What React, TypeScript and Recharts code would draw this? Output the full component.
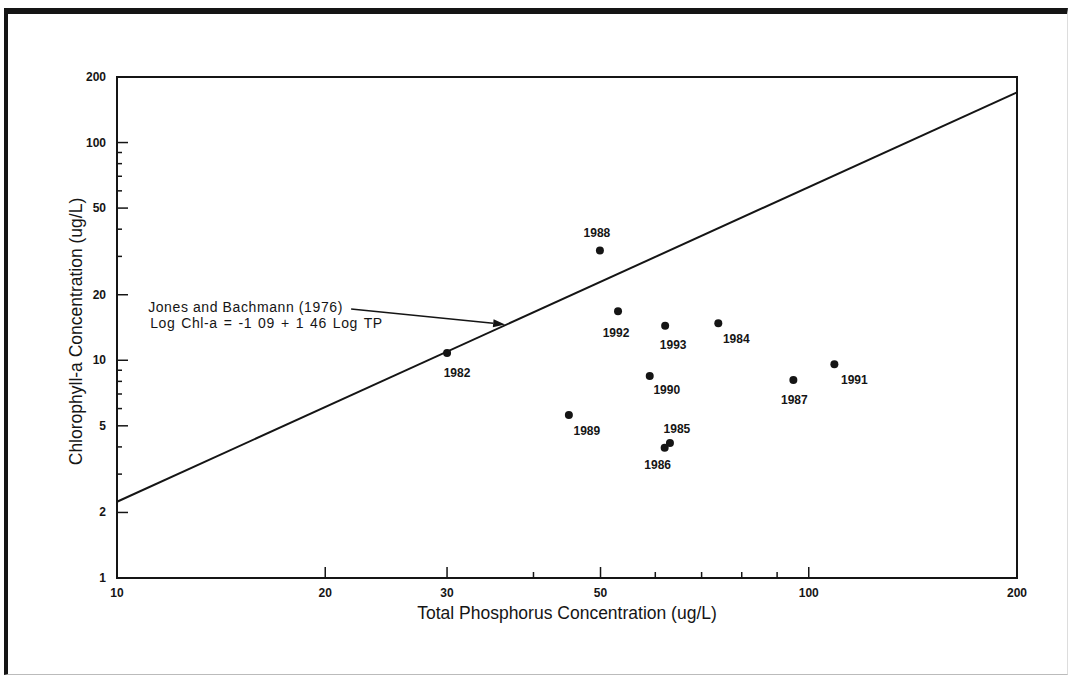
import { ScatterChart, Scatter, XAxis, YAxis, ReferenceLine, ReferenceArea } from 'recharts';

const years = ['1982', '1984', '1985', '1986', '1987', '1988', '1989', '1990', '1991', '1992', '1993'];
const tpValues = [30.0, 74.0, 63.0, 61.9, 95.0, 49.9, 45.0, 58.9, 108.9, 53.0, 62.0];
const chlValues = [10.8, 14.8, 4.17, 3.96, 8.12, 31.9, 5.61, 8.47, 9.59, 16.8, 14.4];

// Jones and Bachmann (1976) line, read at the plot edges
const trendTp = [10, 200];
const trendChl = [2.24, 170];

// annotation arrow, tail and tip
const arrowTp = [21.8, 36.4];
const arrowChl = [17.2, 14.6];

const xTicks = [10, 20, 30, 40, 50, 60, 70, 80, 90, 100, 200];
const xLabels = [10, 20, 30, 50, 100, 200];
const yTicks = [1, 2, 3, 4, 5, 6, 7, 8, 9, 10, 20, 30, 40, 50, 60, 70, 80, 90, 100, 200];
const yLabels = [1, 2, 5, 10, 20, 50, 100, 200];

const points = years.map((year, i) => ({ year, tp: tpValues[i], chl: chlValues[i] }));

// where each year label sits relative to its dot (px)
const labelOffset: Record<string, [number, number]> = {
  '1982': [10, 20], '1984': [18, 16], '1985': [7, -14], '1986': [-7, 17],
  '1987': [1, 20], '1988': [-3, -18], '1989': [18, 16], '1990': [17, 14],
  '1991': [20, 16], '1992': [-2, 22], '1993': [8, 19],
};

const SANS = '"Liberation Sans", Arial, sans-serif';
const NUM = '"Liberation Sans Narrow", "Liberation Sans", Arial, sans-serif';
const INK = '#151515';

const XTick = (props: any) => {
  const { x, y, payload } = props;
  const major = xLabels.includes(payload.value);
  return (
    <g>
      <line x1={x} y1={y} x2={x} y2={y - (major ? 11 : 6)} stroke={INK} strokeWidth={1.5} />
      {major && (
        <text x={x} y={y + 19} textAnchor="middle" fontSize={12} fontWeight="bold" fontFamily={NUM} fill={INK}>
          {payload.value}
        </text>
      )}
    </g>
  );
};

const YTick = (props: any) => {
  const { x, y, payload } = props;
  const major = yLabels.includes(payload.value);
  return (
    <g>
      <line x1={x} y1={y} x2={x + (major ? 11 : 5)} y2={y} stroke={INK} strokeWidth={1.5} />
      {major && (
        <text x={x - 11} y={y + 4} textAnchor="end" fontSize={12} fontWeight="bold" fontFamily={NUM} fill={INK}>
          {payload.value}
        </text>
      )}
    </g>
  );
};

const Dot = (props: any) => {
  const { cx, cy, payload } = props;
  const [dx, dy] = labelOffset[payload.year] || [0, 18];
  return (
    <g>
      <circle cx={cx} cy={cy} r={4} fill={INK} />
      <text x={cx + dx} y={cy + dy + 4} textAnchor="middle" fontSize={12} fontWeight="bold" fontFamily={NUM} fill={INK}>
        {payload.year}
      </text>
    </g>
  );
};

const ArrowNote = (props: any) => {
  const { x1, y1, x2, y2 } = props;
  const ang = Math.atan2(y2 - y1, x2 - x1);
  const len = 12;
  const half = 4;
  const bx = x2 - len * Math.cos(ang);
  const by = y2 - len * Math.sin(ang);
  const pts = `${x2},${y2} ${bx - half * Math.sin(ang)},${by + half * Math.cos(ang)} ${bx + half * Math.sin(ang)},${by - half * Math.cos(ang)}`;
  return (
    <g>
      <line x1={x1} y1={y1} x2={bx} y2={by} stroke={INK} strokeWidth={1.5} />
      <polygon points={pts} fill={INK} />
      <text x={x1 - 203} y={y1 + 3} fontSize={14} letterSpacing={0.6} fontFamily={SANS} fill={INK}>
        Jones and Bachmann (1976)
      </text>
      <text x={x1 - 201} y={y1 + 19} fontSize={14} letterSpacing={0.6} wordSpacing={1.5} fontFamily={SANS} fill={INK}>
        Log Chl-a = -1 09 + 1 46 Log TP
      </text>
    </g>
  );
};

export default function App() {
  return (
    <div style={{ position: 'absolute', left: 0, top: 0, width: 1073, height: 677, background: '#fff' }}>
      <div
        style={{
          position: 'absolute', left: 4, top: 8, width: 1064, height: 667, boxSizing: 'border-box',
          borderTop: `6px solid ${INK}`, borderLeft: `4px solid ${INK}`,
          borderBottom: '1px solid #bbb', borderRight: '1px solid #ddd',
        }}
      />
      <div style={{ position: 'absolute', left: 0, top: 0 }}>
        <ScatterChart width={1073} height={677} margin={{ top: 77, right: 56, bottom: 59, left: 57 }}>
          <XAxis
            type="number" dataKey="tp" scale="log" domain={[10, 200]} allowDataOverflow
            ticks={xTicks} interval={0} tick={XTick} tickLine={false} axisLine={false}
            tickSize={0} tickMargin={0} height={40}
            label={{ value: 'Total Phosphorus Concentration (ug/L)', position: 'bottom', offset: -11,
              style: { fontSize: 17.5, fontFamily: SANS, fill: INK } }}
          />
          <YAxis
            type="number" dataKey="chl" scale="log" domain={[1, 200]} allowDataOverflow
            ticks={yTicks} interval={0} tick={YTick} tickLine={false} axisLine={false}
            tickSize={0} tickMargin={0} width={60}
            label={{ value: 'Chlorophyll-a Concentration (ug/L)', angle: -90, position: 'insideLeft', offset: 19,
              textAnchor: 'middle', dy: 4, style: { fontSize: 17.5, fontFamily: SANS, fill: INK } }}
          />
          <ReferenceArea x1={10} x2={200} y1={1} y2={200} fill="none" stroke={INK} strokeWidth={2} ifOverflow="visible" />
          <ReferenceLine
            segment={[{ x: trendTp[0], y: trendChl[0] }, { x: trendTp[1], y: trendChl[1] }]}
            stroke={INK} strokeWidth={2} ifOverflow="visible"
          />
          <ReferenceLine
            segment={[{ x: arrowTp[0], y: arrowChl[0] }, { x: arrowTp[1], y: arrowChl[1] }]}
            shape={ArrowNote} ifOverflow="visible"
          />
          <Scatter data={points} fill={INK} shape={Dot} isAnimationActive={false} />
        </ScatterChart>
      </div>
    </div>
  );
}
